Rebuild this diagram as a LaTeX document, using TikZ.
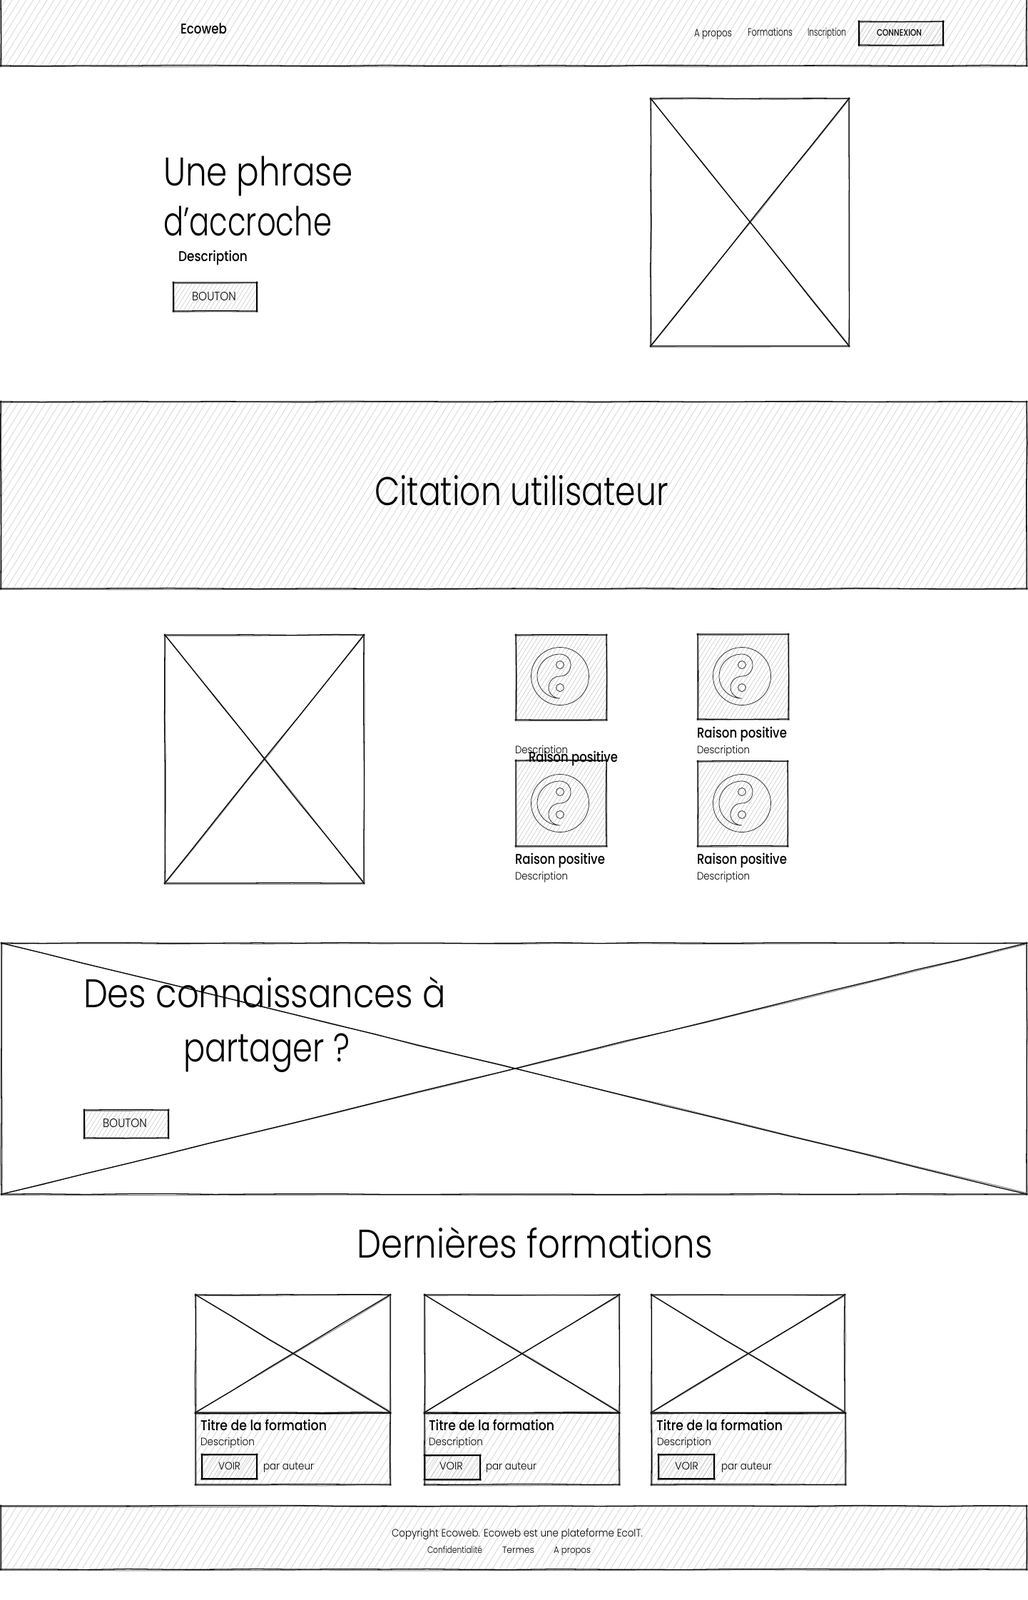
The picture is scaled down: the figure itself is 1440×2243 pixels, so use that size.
\documentclass[tikz,border=0pt]{standalone}
\usepackage{fontspec}
\usepackage{graphicx}
\usetikzlibrary{patterns.meta,decorations.pathmorphing}
\setmainfont{Poppins}[UprightFont=* Light,BoldFont=* Medium]
\newlength\pxu \setlength\pxu{0.75pt}
\tikzset{
  x=0.75pt,y=-0.75pt,
  rough/.style={decorate,decoration={random steps,segment length=45pt,amplitude=.4pt}},
  skline/.style={rough,line width=.95pt,black,line cap=round},
  skghost/.style={rough,line width=.75pt,black!50,line cap=round},
  hatchwide/.style={pattern={Lines[angle=58,distance=6.2pt,line width=.35pt]},pattern color=black!24},
  hatchdense/.style={pattern={Lines[angle=58,distance=3.8pt,line width=.35pt]},pattern color=black!25},
  txt/.style={inner sep=0pt,outer sep=0pt,anchor=base west,text=black},
}
% rough rectangle: every side is its own stroke, a little past the corners
\newcommand\skrect[4]{%
  \draw[skghost] (#1-1,#2+1.3) -- (#3+1.5,#2+.7);
  \draw[skghost] (#1+.8,#2-1) -- (#1+1.2,#4+1);
  \draw[skghost] (#3+.7,#2-1) -- (#3+1,#4+1.5);
  \draw[skghost] (#1-1,#4+1.5) -- (#3+1,#4+1.2);
  \draw[skline] (#1-1,#2) -- (#3+1,#2);
  \draw[skline] (#1,#2-1) -- (#1,#4+1);
  \draw[skline] (#3,#2-1) -- (#3,#4+1);
  \draw[skline] (#1-1,#4) -- (#3+1,#4);}
\newcommand\skhatch[5]{%
  \fill[#5] (#1,#2) rectangle (#3,#4);
  \skrect{#1}{#2}{#3}{#4}}
% placeholder with a cross
\newcommand\skcross[4]{%
  \skrect{#1}{#2}{#3}{#4}
  \draw[skghost] (#1+1,#2+.5) -- (#3,#4-1.5);
  \draw[skghost] (#1+1,#4) -- (#3,#2+1.5);
  \draw[skline] (#1,#2) -- (#3,#4);
  \draw[skline] (#1,#4) -- (#3,#2);}
% name, x, baseline, width, size, text
\newcommand\lbl[6]{%
  \node[txt] (#1) at (#2,#3) {\resizebox{#4\pxu}{\height}{\fontsize{#5\pxu}{#5\pxu}\selectfont #6}};}
% icon: square centre
\newcommand\yinyang[2]{%
  \begin{scope}[shift={(#1,#2)},line width=.55pt,black!85]
    \draw (0,0) circle[radius=40.5];
    \draw (0,31) .. controls (-18,31) and (-32,17) .. (-32,0)
      .. controls (-32,-17) and (-18,-31) .. (0,-31)
      .. controls (9,-31) and (15,-24) .. (15,-16)
      .. controls (15,-7) and (9,0) .. (0,0)
      .. controls (-9,0) and (-16,7) .. (-16,16)
      .. controls (-16,24) and (-9,31) .. (0,31);
    \draw (0,-16) circle[radius=5.5];
    \draw (0,16) circle[radius=5.5];
  \end{scope}}
\begin{document}
\begin{tikzpicture}
\useasboundingbox (0,0) rectangle (1440,2243);
\fill[white] (0,0) rectangle (1440,2243);
% header
\skhatch{1}{-3}{1439}{92}{hatchwide}
\lbl{brand}{253}{47}{65}{20}{\textbf{Ecoweb}}
\lbl{nava}{973}{51}{53}{15}{A propos}
\lbl{navf}{1048}{50}{63}{15}{Formations}
\lbl{navi}{1132}{50}{54}{15}{Inscription}
\skhatch{1204}{30}{1322}{63}{hatchdense}
\lbl{conn}{1229}{50}{63}{13}{\textbf{CONNEXION}}
% hero
\skcross{912}{138}{1190}{485}
\lbl{hero1}{229}{260}{266}{56}{Une phrase}
\lbl{hero2}{229}{330}{236}{56}{d'accroche}
\lbl{herod}{250}{366}{97}{20}{\textbf{Description}}
\skhatch{243}{396}{360}{436}{hatchdense}
\lbl{herob}{269}{421}{62}{17}{BOUTON}
% quote
\skhatch{1}{563}{1439}{825}{hatchwide}
\lbl{quote}{525}{708}{412}{56}{Citation utilisateur}
% benefits
\skcross{231}{890}{510}{1238}
\skhatch{723}{890}{850}{1009}{hatchdense}
\yinyang{785}{948}
\skhatch{978}{889}{1105}{1008}{hatchdense}
\yinyang{1040}{948}
\skhatch{723}{1066}{850}{1186}{hatchdense}
\yinyang{785}{1126}
\skhatch{978}{1067}{1104}{1186}{hatchdense}
\yinyang{1040}{1126}
\lbl{d1}{722}{1056}{74}{15}{Description}
\lbl{r1}{741}{1068}{125}{20}{\textbf{Raison positive}}
\lbl{r2}{977}{1034}{126}{20}{\textbf{Raison positive}}
\lbl{d2}{977}{1056}{74}{15}{Description}
\lbl{r3}{722}{1211}{126}{20}{\textbf{Raison positive}}
\lbl{d3}{722}{1233}{74}{15}{Description}
\lbl{r4}{977}{1211}{126}{20}{\textbf{Raison positive}}
\lbl{d4}{977}{1233}{74}{15}{Description}
% call to action
\skcross{2}{1322}{1439}{1674}
\lbl{cta1}{117}{1412}{508}{56}{Des connaissances à}
\lbl{cta2}{257}{1488}{233}{56}{partager ?}
\skhatch{118}{1556}{236}{1595}{hatchdense}
\lbl{ctab}{144}{1580}{62}{17}{BOUTON}
% latest
\lbl{latest}{500}{1763}{499}{56}{Dernières formations}
% cards
\skcross{274}{1815}{547}{1980}
\skhatch{274}{1981}{547}{2081}{hatchwide}
\lbl{t1}{281}{2005}{177}{20}{\textbf{Titre de la formation}}
\lbl{de1}{281}{2026}{76}{15}{Description}
\skhatch{283}{2039}{360}{2073}{hatchdense}
\lbl{v1}{306}{2060}{31}{15}{VOIR}
\lbl{p1}{369}{2060}{71}{15}{par auteur}
\skcross{595}{1815}{868}{1980}
\skhatch{595}{1981}{868}{2081}{hatchwide}
\lbl{t2}{601}{2005}{176}{20}{\textbf{Titre de la formation}}
\lbl{de2}{601}{2026}{76}{15}{Description}
\skhatch{595}{2040}{673}{2074}{hatchdense}
\lbl{v2}{616}{2060}{33}{15}{VOIR}
\lbl{p2}{681}{2060}{71}{15}{par auteur}
\skcross{913}{1815}{1184}{1980}
\skhatch{913}{1981}{1185}{2081}{hatchwide}
\lbl{t3}{920}{2005}{177}{20}{\textbf{Titre de la formation}}
\lbl{de3}{921}{2026}{76}{15}{Description}
\skhatch{923}{2039}{1001}{2073}{hatchdense}
\lbl{v3}{946}{2060}{33}{15}{VOIR}
\lbl{p3}{1011}{2060}{71}{15}{par auteur}
% footer
\skhatch{1}{2111}{1439}{2200}{hatchwide}
\lbl{copy}{549}{2154}{352}{15}{Copyright Ecoweb. Ecoweb est une plateforme EcoIT.}
\lbl{f1}{599}{2177}{77}{13}{Confidentialité}
\lbl{f2}{704}{2177}{45}{13}{Termes}
\lbl{f3}{776}{2177}{52}{13}{A propos}
\end{tikzpicture}
\end{document}
